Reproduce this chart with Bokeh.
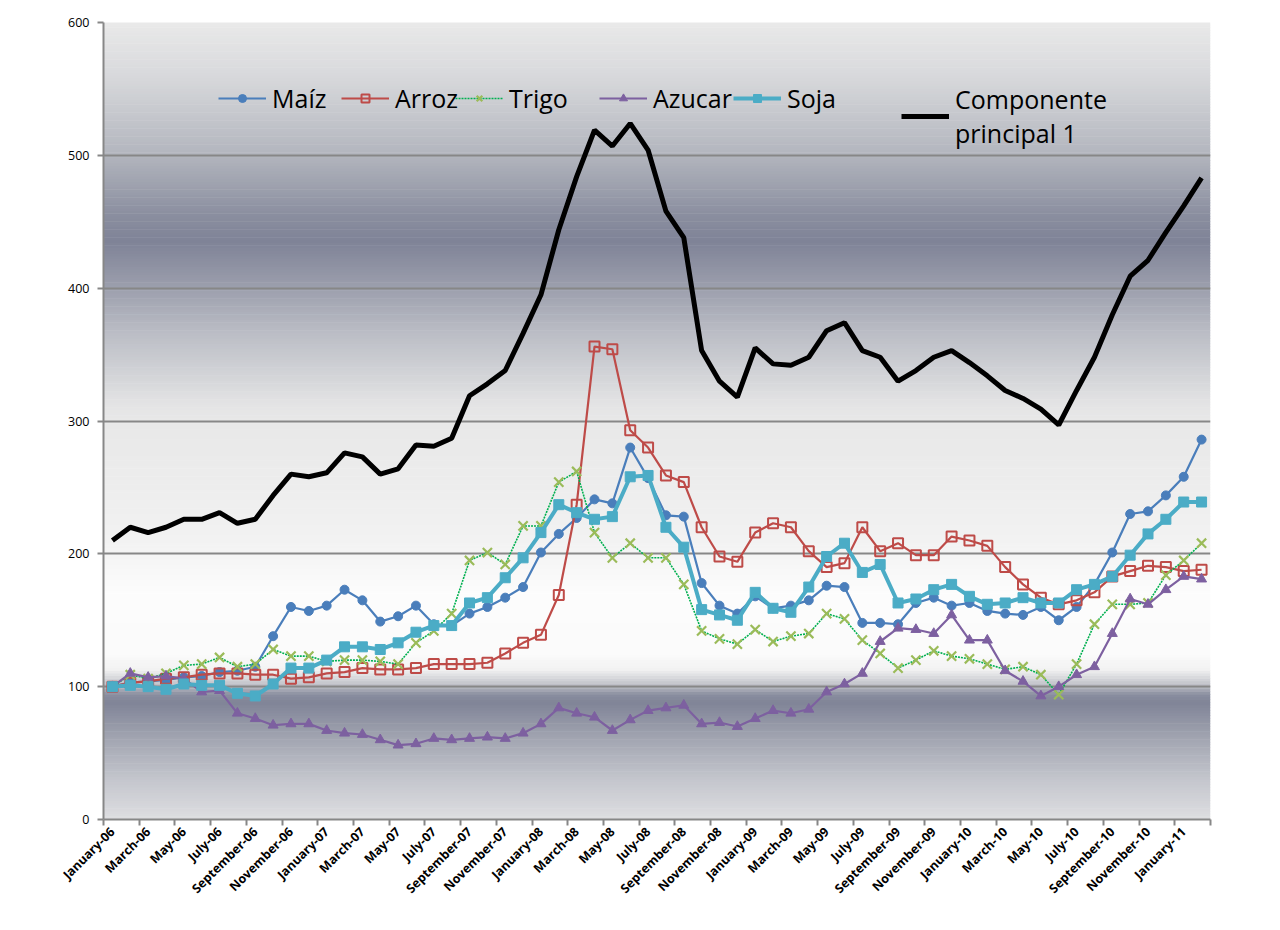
import math
import numpy as np
from bokeh.plotting import figure
from bokeh.models import FixedTicker, Legend, LegendItem, Range1d
from bokeh.embed import file_html
from bokeh.resources import INLINE

# ---------------- data (monthly, January-06 .. February-11) ----------------
tick_labels = ["January-06", "March-06", "May-06", "July-06", "September-06", "November-06",
               "January-07", "March-07", "May-07", "July-07", "September-07", "November-07",
               "January-08", "March-08", "May-08", "July-08", "September-08", "November-08",
               "January-09", "March-09", "May-09", "July-09", "September-09", "November-09",
               "January-10", "March-10", "May-10", "July-10", "September-10", "November-10",
               "January-11"]

maiz = [100, 103, 104, 105, 107, 108, 111, 112, 115, 138, 160, 157, 161, 173, 165, 149,
        153, 161, 147, 146, 155, 160, 167, 175, 201, 215, 227, 241, 238, 280, 257, 229,
        228, 178, 161, 155, 168, 159, 161, 165, 176, 175, 148, 148, 147, 163, 167, 161,
        163, 157, 155, 154, 160, 150, 160, 177, 201, 230, 232, 244, 258, 286]

arroz = [100, 103, 104, 106, 107, 109, 110, 110, 109, 109, 106, 107, 110, 111, 114, 113,
         113, 114, 117, 117, 117, 118, 125, 133, 139, 169, 237, 356, 354, 293, 280, 259,
         254, 220, 198, 194, 216, 223, 220, 202, 190, 193, 220, 202, 208, 199, 199, 213,
         210, 206, 190, 177, 167, 162, 165, 171, 183, 187, 191, 190, 187, 188]

trigo = [100, 109, 106, 110, 116, 117, 122, 115, 117, 128, 123, 123, 119, 120, 120, 119,
         117, 133, 142, 155, 195, 201, 192, 221, 221, 254, 262, 216, 197, 208, 197, 197,
         177, 142, 136, 132, 143, 134, 138, 140, 155, 151, 135, 125, 114, 120, 127, 123,
         121, 117, 113, 115, 109, 94, 117, 147, 162, 162, 163, 184, 195, 208]

azucar = [100, 110, 107, 108, 106, 96, 97, 80, 76, 71, 72, 72, 67, 65, 64, 60,
          56, 57, 61, 60, 61, 62, 61, 65, 72, 84, 80, 77, 67, 75, 82, 84,
          86, 72, 73, 70, 76, 82, 80, 83, 96, 102, 110, 134, 144, 143, 140, 154,
          135, 135, 112, 104, 93, 100, 109, 115, 140, 166, 162, 173, 183, 181]

soja = [100, 101, 100, 98, 102, 101, 101, 95, 93, 102, 114, 114, 120, 130, 130, 128,
        133, 141, 146, 146, 163, 167, 182, 197, 216, 237, 231, 226, 228, 258, 259, 220,
        205, 158, 154, 150, 171, 159, 156, 175, 198, 208, 186, 192, 163, 166, 173, 177,
        168, 162, 163, 167, 163, 163, 173, 177, 183, 199, 215, 226, 239, 239]

componente = [210, 220, 216, 220, 226, 226, 231, 223, 226, 244, 260, 258, 261, 276, 273, 260,
              264, 282, 281, 287, 319, 328, 338, 366, 395, 444, 484, 519, 507, 524, 504, 458,
              438, 353, 330, 318, 355, 343, 342, 348, 368, 374, 353, 348, 330, 338, 348, 353,
              344, 334, 323, 317, 309, 297, 323, 348, 380, 409, 421, 442, 462, 483]

x = list(range(len(maiz)))

# ---------------- figure ----------------
p = figure(width=1272, height=920, output_backend="svg", toolbar_location=None,
           x_range=Range1d(-0.5, len(x) - 0.5), y_range=Range1d(0, 600),
           min_border_left=103, min_border_right=62, min_border_top=22, min_border_bottom=101)
p.outline_line_color = None
p.background_fill_color = "white"
p.border_fill_color = "white"

# background gradient (decoration)
stops_v = [0, 30, 60, 88, 94, 100, 107, 113, 125, 170, 210, 260, 300, 312, 330, 365, 400, 435,
           455, 500, 560, 600]
stops_c = ["#dedee1", "#c4c6cd", "#a3a6b2", "#808497", "#8a8e9f", "#b9bbc3", "#d9dadd", "#f2f2f2",
           "#fbfbfb", "#fcfcfc", "#f2f2f2", "#ececec", "#e8e8e8", "#e4e4e5", "#d6d7da", "#bcbec6",
           "#9c9fad", "#7f8397", "#8a8e9f", "#b2b5bd", "#d8d9dc", "#e9e9e9"]


def hex2rgb(h):
    h = h.lstrip("#")
    return [int(h[i:i + 2], 16) for i in (0, 2, 4)]


rgb = np.array([hex2rgb(c) for c in stops_c], dtype=float)
step = 2.0
vb = np.arange(0, 600, step)
cols = []
for v in vb:
    c = [np.interp(v + step / 2, stops_v, rgb[:, k]) for k in range(3)]
    cols.append("#%02x%02x%02x" % tuple(int(round(t)) for t in c))
bg = p.quad(left=-0.5, right=len(x) - 0.5, bottom=vb, top=vb + step + 0.4,
            fill_color=cols, line_color=None)
bg.level = "image"

# grid
p.xgrid.visible = False
p.ygrid.grid_line_color = "#878787"
p.ygrid.grid_line_width = 2
p.ygrid.ticker = FixedTicker(ticks=[100, 200, 300, 400, 500])

# y axis
p.yaxis.ticker = FixedTicker(ticks=[0, 100, 200, 300, 400, 500, 600])
p.yaxis.axis_line_color = "#878787"
p.yaxis.axis_line_width = 2
p.yaxis.major_tick_line_color = "#878787"
p.yaxis.major_tick_line_width = 2
p.yaxis.major_tick_out = 6
p.yaxis.major_tick_in = 0
p.yaxis.minor_tick_line_color = None
p.yaxis.major_label_text_font = "Open Sans"
p.yaxis.major_label_text_font_size = "12.5px"
p.yaxis.major_label_text_color = "black"
p.yaxis.major_label_standoff = 8

# x axis
p.xaxis.ticker = FixedTicker(ticks=list(range(0, len(x), 2)),
                             minor_ticks=[i - 0.5 for i in range(0, len(x) + 1, 2)])
p.xaxis.major_label_overrides = {i * 2: lab for i, lab in enumerate(tick_labels)}
p.xaxis.axis_line_color = "#878787"
p.xaxis.axis_line_width = 2
p.xaxis.major_tick_line_color = None
p.xaxis.minor_tick_line_color = "#878787"
p.xaxis.minor_tick_line_width = 2
p.xaxis.minor_tick_out = 6
p.xaxis.minor_tick_in = 0
p.xaxis.major_label_orientation = math.pi / 4
p.xaxis.major_label_text_font = "Open Sans"
p.xaxis.major_label_text_font_style = "bold"
p.xaxis.major_label_text_font_size = "12.5px"
p.xaxis.major_label_text_color = "black"
p.xaxis.major_label_standoff = 4

# ---------------- series ----------------
items = []

l1 = p.line(x, maiz, line_color="#4a7ebb", line_width=2.2)
m1 = p.scatter(x, maiz, marker="circle", size=9, fill_color="#4a7ebb", line_color="#4a7ebb")
items.append(("Maíz", [l1, m1]))

l2 = p.line(x, arroz, line_color="#be4b48", line_width=2.2)
m2 = p.scatter(x, arroz, marker="square", size=10, fill_color=None, line_color="#be4b48",
               line_width=2)
items.append(("Arroz", [l2, m2]))

l3 = p.line(x, trigo, line_color="#00b050", line_width=1.6, line_dash="2 1")
m3 = p.scatter(x, trigo, marker="x", size=13, line_color="#9bbb59", line_width=2.2)
items.append(("Trigo", [l3, m3]))

l4 = p.line(x, azucar, line_color="#7d60a0", line_width=2.2)
m4 = p.scatter(x, azucar, marker="triangle", size=10, fill_color="#7d60a0", line_color="#7d60a0")
items.append(("Azucar", [l4, m4]))

l5 = p.line(x, soja, line_color="#4bacc6", line_width=4)
m5 = p.scatter(x, soja, marker="square", size=10, fill_color="#4bacc6", line_color="#4bacc6")
items.append(("Soja", [l5, m5]))

l6 = p.line(x, componente, line_color="black", line_width=5)
items.append(("Componente\nprincipal 1", [l6]))

# ---------------- legend (one box per entry, Excel-like spacing) ----------------
leg_x = [115, 238, 352, 496, 630, 798]
leg_y = [704, 704, 704, 704, 704, 669]
for (lab, rs), lx, ly in zip(items, leg_x, leg_y):
    leg = Legend(items=[LegendItem(label=lab, renderers=rs)], location=(lx, ly),
                 orientation="horizontal", padding=0, margin=0, spacing=0,
                 border_line_color=None, background_fill_alpha=0,
                 label_text_font="Open Sans", label_text_font_size="25px",
                 label_text_color="black", glyph_width=48, glyph_height=20,
                 label_standoff=6)
    p.add_layout(leg)

open("out.html", "w").write(file_html(p, INLINE))
